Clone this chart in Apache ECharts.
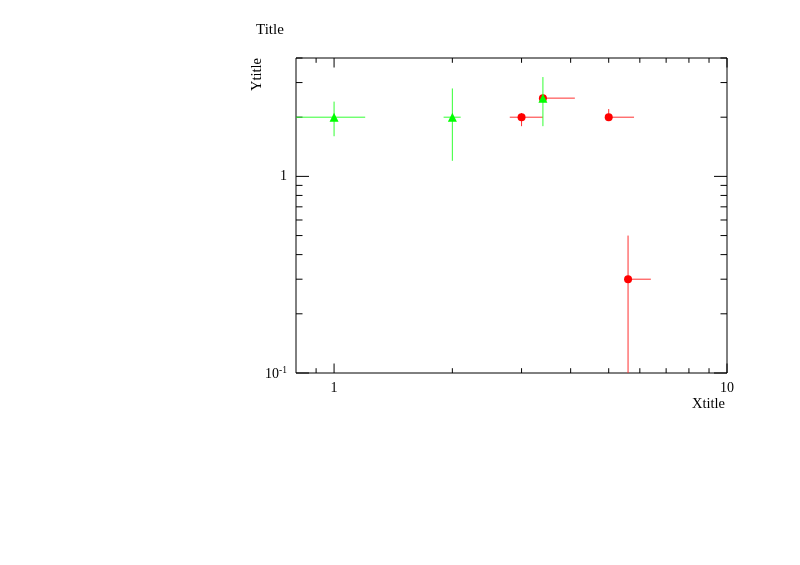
<!DOCTYPE html>
<html><head><meta charset="utf-8">
<script src="https://cdn.jsdelivr.net/npm/echarts@6/dist/echarts.min.js"></script>
<style>html,body{margin:0;padding:0;background:#fff}#c{width:800px;height:565px}</style>
</head><body><div id="c"></div>
<script>
// axis ranges
const xRange = [0.8, 10];
const yRange = [0.1, 4];
// ticks
const xMajorTicks = [1, 10];
const xMinorTicks = [0.9, 2, 3, 4, 5, 6, 7, 8, 9];
const yMajorTicks = [0.1, 1];
const yMinorTicks = [0.2, 0.3, 0.4, 0.5, 0.6, 0.7, 0.8, 0.9, 2, 3, 4];
// tick labels
const xLabelValues = [1, 10];
const xLabelTexts = ['1', '10'];
const yLabelValues = [0.1, 1];
const yLabelBases = ['10', '1'];
const yLabelExps = ['-1', ''];
// red graph (asymmetric errors)
const redX = [3, 3.4, 5, 5.6];
const redY = [2, 2.5, 2, 0.3];
const redExLow = [0.2, 0, 0, 0];
const redExHigh = [0.4, 0.7, 0.8, 0.8];
const redEyLow = [0.2, 0, 0, 0.3];
const redEyHigh = [0.1, 0, 0.2, 0.2];
// green graph
const greenX = [1, 2, 3.4];
const greenY = [2, 2, 2.5];
const greenExLow = [0.2, 0.1, 0];
const greenExHigh = [0.2, 0.1, 0];
const greenEyLow = [0.4, 0.8, 0.7];
const greenEyHigh = [0.4, 0.8, 0.7];

const FONT = '"Liberation Serif", "DejaVu Serif", serif';

function errData(xs, ys, exl, exh, eyl, eyh) {
  return xs.map((x, i) => [x, ys[i], exl[i], exh[i], eyl[i], eyh[i]]);
}
function errRender(color) {
  return function (params, api) {
    const x = api.value(0), y = api.value(1);
    const exl = api.value(2), exh = api.value(3), eyl = api.value(4), eyh = api.value(5);
    const children = [];
    const st = { stroke: color, lineWidth: 1 };
    const xl = Math.max(x - exl, xRange[0]), xh = Math.min(x + exh, xRange[1]);
    const yl = (y - eyl) > yRange[0] ? (y - eyl) : yRange[0];
    const yh = Math.min(y + eyh, yRange[1]);
    if (exl > 0 || exh > 0) {
      const a = api.coord([xl, y]), b = api.coord([xh, y]);
      children.push({ type: 'line', shape: { x1: a[0], y1: a[1], x2: b[0], y2: b[1] }, style: st });
    }
    if (eyl > 0 || eyh > 0) {
      const a = api.coord([x, yl]), b = api.coord([x, yh]);
      children.push({ type: 'line', shape: { x1: a[0], y1: a[1], x2: b[0], y2: b[1] }, style: st });
    }
    return { type: 'group', children: children };
  };
}
function xTickRender(len) {
  return function (params, api) {
    const v = api.value(0);
    const b = api.coord([v, yRange[0]]), t = api.coord([v, yRange[1]]);
    const st = { stroke: '#000', lineWidth: 1 };
    return { type: 'group', children: [
      { type: 'line', shape: { x1: b[0], y1: b[1], x2: b[0], y2: b[1] - len }, style: st },
      { type: 'line', shape: { x1: t[0], y1: t[1], x2: t[0], y2: t[1] + len }, style: st }
    ] };
  };
}
function yTickRender(len) {
  return function (params, api) {
    const v = api.value(1);
    const l = api.coord([xRange[0], v]), r = api.coord([xRange[1], v]);
    const st = { stroke: '#000', lineWidth: 1 };
    return { type: 'group', children: [
      { type: 'line', shape: { x1: l[0], y1: l[1], x2: l[0] + len, y2: l[1] }, style: st },
      { type: 'line', shape: { x1: r[0], y1: r[1], x2: r[0] - len, y2: r[1] }, style: st }
    ] };
  };
}
function xLabelRender(params, api) {
  const v = api.value(0);
  const p = api.coord([v, yRange[0]]);
  return { type: 'text', x: p[0], y: p[1] + 15, style: { text: xLabelTexts[params.dataIndex], fontFamily: FONT, fontSize: 14, fill: '#000', align: 'center', verticalAlign: 'middle' } };
}
function yLabelRender(params, api) {
  const v = api.value(1);
  const p = api.coord([xRange[0], v]);
  const i = params.dataIndex;
  const exp = yLabelExps[i];
  const right = p[0] - 9;
  const children = [];
  if (exp) {
    children.push({ type: 'text', x: right - 8, y: p[1] + 1, style: { text: yLabelBases[i], fontFamily: FONT, fontSize: 14, fill: '#000', align: 'right', verticalAlign: 'middle' } });
    children.push({ type: 'text', x: right - 8, y: p[1] - 3, style: { text: exp, fontFamily: FONT, fontSize: 9.5, fill: '#000', align: 'left', verticalAlign: 'middle' } });
  } else {
    children.push({ type: 'text', x: right, y: p[1], style: { text: yLabelBases[i], fontFamily: FONT, fontSize: 14, fill: '#000', align: 'right', verticalAlign: 'middle' } });
  }
  return { type: 'group', children: children };
}

const chart = echarts.init(document.getElementById('c'), null, { renderer: 'canvas' });
chart.setOption({
  animation: false,
  backgroundColor: '#fff',
  grid: { left: 296, top: 58, width: 431, height: 315, show: true, borderColor: '#000', borderWidth: 1, backgroundColor: 'transparent' },
  xAxis: { type: 'log', logBase: 10, min: xRange[0], max: xRange[1], axisLine: { show: false }, axisTick: { show: false }, axisLabel: { show: false }, splitLine: { show: false }, minorTick: { show: false } },
  yAxis: { type: 'log', logBase: 10, min: yRange[0], max: yRange[1], axisLine: { show: false }, axisTick: { show: false }, axisLabel: { show: false }, splitLine: { show: false }, minorTick: { show: false } },
  graphic: [
    { type: 'text', x: 256, y: 30, style: { text: 'Title', fontFamily: FONT, fontSize: 15, fill: '#000', align: 'left', verticalAlign: 'middle' } },
    { type: 'text', x: 725, y: 404, style: { text: 'Xtitle', fontFamily: FONT, fontSize: 14.5, fill: '#000', align: 'right', verticalAlign: 'middle' } },
    { type: 'text', x: 257, y: 58, rotation: Math.PI / 2, style: { text: 'Ytitle', fontFamily: FONT, fontSize: 14.5, fill: '#000', align: 'right', verticalAlign: 'middle' } }
  ],
  series: [
    { type: 'custom', silent: true, z: 1, renderItem: xTickRender(9.5), data: xMajorTicks.map(v => [v, yRange[0]]) },
    { type: 'custom', silent: true, z: 1, renderItem: xTickRender(4.8), data: xMinorTicks.map(v => [v, yRange[0]]) },
    { type: 'custom', silent: true, z: 1, renderItem: yTickRender(13), data: yMajorTicks.map(v => [xRange[0], v]) },
    { type: 'custom', silent: true, z: 1, renderItem: yTickRender(6.5), data: yMinorTicks.map(v => [xRange[0], v]) },
    { type: 'custom', silent: true, z: 1, renderItem: xLabelRender, data: xLabelValues.map(v => [v, yRange[0]]) },
    { type: 'custom', silent: true, z: 1, renderItem: yLabelRender, data: yLabelValues.map(v => [xRange[0], v]) },
    { type: 'custom', silent: true, z: 2, clip: true, renderItem: errRender('#ff3030'), data: errData(redX, redY, redExLow, redExHigh, redEyLow, redEyHigh) },
    { type: 'scatter', silent: true, z: 3, symbol: 'circle', symbolSize: 8, itemStyle: { color: '#ff0000', opacity: 1 }, data: redX.map((x, i) => [x, redY[i]]) },
    { type: 'custom', silent: true, z: 4, clip: true, renderItem: errRender('#33ff33'), data: errData(greenX, greenY, greenExLow, greenExHigh, greenEyLow, greenEyHigh) },
    { type: 'scatter', silent: true, z: 5, symbol: 'triangle', symbolSize: 9, itemStyle: { color: '#00ff00', opacity: 1 }, data: greenX.map((x, i) => [x, greenY[i]]) }
  ]
});
</script>
</body></html>
